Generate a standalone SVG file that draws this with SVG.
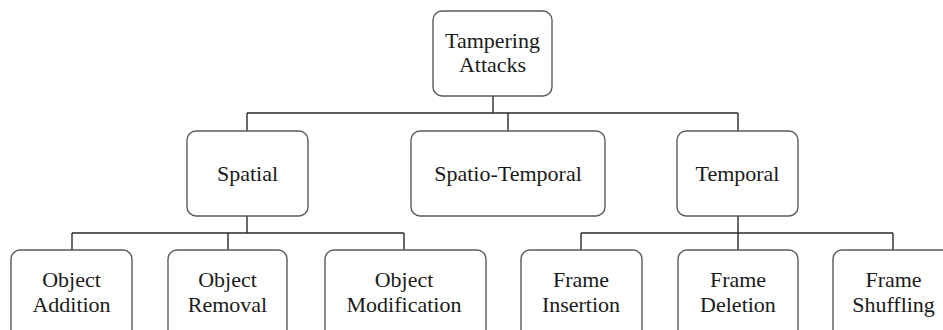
<svg xmlns="http://www.w3.org/2000/svg" width="943" height="330" viewBox="0 0 943 330">
<style>
.box{fill:#fff;stroke:#5a5a5a;stroke-width:1.4}
.t{font-family:"Liberation Serif","Tinos","DejaVu Serif","Times New Roman",serif;font-size:22px;fill:#1a1a1a;text-anchor:middle}
.c{fill:none;stroke:#2a2a2a;stroke-width:1.4}
</style>
<rect width="943" height="330" fill="#fff"/>
<g id="connectors">
<path class="c" d="M493 96V113M247 113H738M247 113V131M508 113V131M738 113V131"/>
<path class="c" d="M247 216V233M72 233H404M72 233V250M228 233V250M404 233V250"/>
<path class="c" d="M738 216V233M581 233H893M581 233V250M738 233V250M893 233V250"/>
</g>
<g id="root"><rect class="box" x="433" y="11" width="119" height="85" rx="9"/><text class="t" x="492.5" y="48">Tampering</text><text class="t" x="492.5" y="72">Attacks</text></g>
<g id="spatial"><rect class="box" x="187" y="131" width="121" height="85" rx="9"/><text class="t" x="247.5" y="181">Spatial</text></g>
<g id="spatiotemporal"><rect class="box" x="411" y="131" width="194" height="85" rx="9"/><text class="t" x="508" y="181">Spatio-Temporal</text></g>
<g id="temporal"><rect class="box" x="677" y="131" width="121" height="85" rx="9"/><text class="t" x="737.5" y="181">Temporal</text></g>
<g id="objadd"><rect class="box" x="11" y="250" width="121" height="90" rx="9"/><text class="t" x="71.5" y="287">Object</text><text class="t" x="71.5" y="312">Addition</text></g>
<g id="objrem"><rect class="box" x="168" y="250" width="119" height="90" rx="9"/><text class="t" x="227.5" y="287">Object</text><text class="t" x="227.5" y="312">Removal</text></g>
<g id="objmod"><rect class="box" x="325" y="250" width="161" height="90" rx="9"/><text class="t" x="404" y="287">Object</text><text class="t" x="404" y="312">Modification</text></g>
<g id="frins"><rect class="box" x="521" y="250" width="121" height="90" rx="9"/><text class="t" x="581" y="287">Frame</text><text class="t" x="581" y="312">Insertion</text></g>
<g id="frdel"><rect class="box" x="678" y="250" width="120" height="90" rx="9"/><text class="t" x="738" y="287">Frame</text><text class="t" x="738" y="312">Deletion</text></g>
<g id="frshuf"><rect class="box" x="833" y="250" width="125" height="90" rx="9"/><text class="t" x="893.5" y="287">Frame</text><text class="t" x="893.5" y="312">Shuffling</text></g>
</svg>
